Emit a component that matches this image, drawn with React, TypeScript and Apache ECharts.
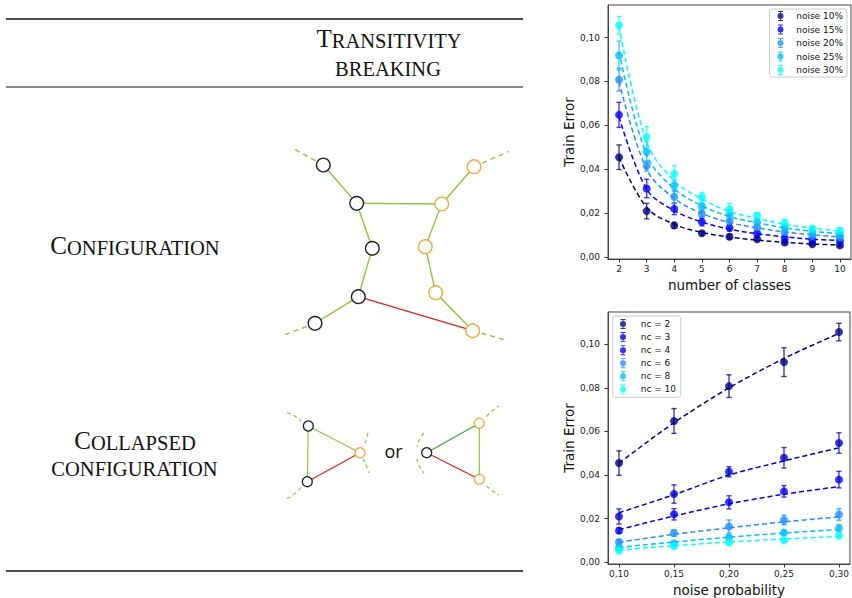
import React, { useEffect, useRef } from 'react';
import * as echarts from 'echarts';

// ---------- data ----------
const classes = [2, 3, 4, 5, 6, 7, 8, 9, 10];
const noiseProbs = [0.1, 0.15, 0.2, 0.25, 0.3];
const noiseNames = ['noise 10%', 'noise 15%', 'noise 20%', 'noise 25%', 'noise 30%'];
const ncValues = [2, 3, 4, 6, 8, 10];
const ncNames = ['nc = 2', 'nc = 3', 'nc = 4', 'nc = 6', 'nc = 8', 'nc = 10'];
const yTicks = [0, 0.02, 0.04, 0.06, 0.08, 0.1];

// mean train error, one array per noise level, over classes 2..10
const mean10 = [0.0455, 0.021, 0.0145, 0.0109, 0.0093, 0.0082, 0.0067, 0.0059, 0.0054];
const mean15 = [0.0648, 0.0313, 0.022, 0.0161, 0.0134, 0.0108, 0.0087, 0.0078, 0.0073];
const mean20 = [0.0808, 0.0415, 0.0275, 0.0197, 0.0164, 0.0135, 0.0114, 0.0096, 0.009];
const mean25 = [0.0918, 0.0479, 0.0325, 0.0231, 0.0194, 0.016, 0.0136, 0.0113, 0.0101];
const mean30 = [0.1056, 0.0547, 0.0379, 0.0273, 0.0219, 0.019, 0.0156, 0.013, 0.0122];

// error bar half-lengths
const err10 = [0.0056, 0.0035, 0.0013, 0.0009, 0.0011, 0.0008, 0.0007, 0.0006, 0.0006];
const err15 = [0.0057, 0.0042, 0.0026, 0.0018, 0.0015, 0.0011, 0.0009, 0.0008, 0.0008];
const err20 = [0.0052, 0.0023, 0.003, 0.0014, 0.003, 0.0012, 0.001, 0.0009, 0.0008];
const err25 = [0.0066, 0.0047, 0.0026, 0.0015, 0.0022, 0.0012, 0.0011, 0.0009, 0.0008];
const err30 = [0.004, 0.0047, 0.0038, 0.0022, 0.0026, 0.0013, 0.0016, 0.001, 0.0009];

// dashed fitted curves
const fit10 = [0.0455, 0.0227, 0.015, 0.0113, 0.0092, 0.0078, 0.0068, 0.006, 0.0056];
const fit15 = [0.064, 0.031, 0.0212, 0.016, 0.0128, 0.0107, 0.0093, 0.0082, 0.0076];
const fit20 = [0.08, 0.04, 0.0268, 0.02, 0.0158, 0.0134, 0.0115, 0.0102, 0.0093];
const fit25 = [0.0935, 0.0465, 0.0312, 0.0234, 0.0185, 0.0157, 0.0134, 0.0118, 0.0107];
const fit30 = [0.105, 0.0525, 0.0347, 0.0265, 0.0208, 0.0177, 0.015, 0.0133, 0.0119];

const means = [mean10, mean15, mean20, mean25, mean30];
const errs = [err10, err15, err20, err25, err30];
const fits = [fit10, fit15, fit20, fit25, fit30];

const noiseColors = ['#000080', '#0000ff', '#1e90ff', '#00bfff', '#00ffff'];
const ncColors = ['#000080', '#0000cd', '#0000ff', '#1e90ff', '#00bfff', '#00ffff'];

// ---------- illustration layout (not data) ----------
const GREEN = '#8dc63f';
const DGREEN = '#3aaa35';
const RED = '#e2231a';
const ORANGE = '#f7a640';
const BLACK = '#231f20';
const SERIF = 'Liberation Serif';
const SANS = 'DejaVu Sans';

const cfgNodes: Record<string, [number, number, string]> = {
  A: [323.3, 165, BLACK], B: [356.7, 203.3, BLACK], C: [372.3, 248.3, BLACK],
  D: [358.3, 296.7, BLACK], E: [315, 323.3, BLACK],
  F: [474, 166.7, ORANGE], G: [441.7, 204, ORANGE], H: [425.3, 246.7, ORANGE],
  I: [435.7, 292.7, ORANGE], J: [472.7, 330.7, ORANGE],
};
const cfgEdges: [string, string, string][] = [
  ['A', 'B', GREEN], ['B', 'C', GREEN], ['C', 'D', GREEN], ['D', 'E', GREEN],
  ['B', 'G', GREEN], ['F', 'G', GREEN], ['G', 'H', GREEN], ['H', 'I', GREEN],
  ['I', 'J', GREEN], ['D', 'J', RED],
];
const cfgDashes: [string, number, number][] = [
  ['A', 295, 149.5], ['F', 508.5, 151.5], ['E', 281.5, 336], ['J', 503.5, 339.5],
];
const colNodes: Record<string, [number, number, string]> = {
  T1: [308.3, 426, BLACK], B1: [307.3, 481.7, BLACK], O1: [360, 452.7, ORANGE],
  K: [426.7, 452.7, BLACK], P: [479.3, 423.3, ORANGE], Q: [479.3, 479.3, ORANGE],
};
const colEdges: [string, string, string][] = [
  ['T1', 'B1', GREEN], ['T1', 'O1', GREEN], ['B1', 'O1', RED],
  ['K', 'P', DGREEN], ['K', 'Q', RED], ['P', 'Q', GREEN],
];
// quadratic dashed arcs: x1,y1,cpx,cpy,x2,y2
const colArcs: number[][] = [
  [287, 412.5, 295, 415, 301, 421],
  [287, 498.5, 295, 495, 301, 487.5],
  [368, 433, 366.5, 440, 363, 447],
  [363, 458.5, 366.5, 465, 369, 473],
  [424, 433, 418, 440, 417, 447],
  [417, 458.5, 418, 466, 424, 473],
  [486.5, 416.5, 492, 410, 499, 406],
  [486.5, 486, 492, 491, 499, 495],
];

const legendIcon =
  'path://M4.5,0 h1 v10 h-1 z M2.5,0 h5 v0.9 h-5 z M2.5,9.1 h5 v0.9 h-5 z M2,5 a3,3 0 1,1 6,0 a3,3 0 1,1 -6,0 z';

function buildGraphic() {
  const g: any[] = [];
  const rule = (y: number, w: number) => ({
    type: 'line', shape: { x1: 6, y1: y, x2: 523, y2: y }, style: { stroke: '#111', lineWidth: w },
  });
  g.push(rule(19, 1.6), rule(87, 1.1), rule(571, 1.6));

  const richStyle = {
    a: { fontSize: 25, fontFamily: SERIF, fill: '#111', lineHeight: 25, verticalAlign: 'bottom' },
    b: { fontSize: 20.5, fontFamily: SERIF, fill: '#111', lineHeight: 22, verticalAlign: 'bottom' },
  };
  const title = (text: string, x: number, y: number) => ({
    type: 'text',
    x, y,
    style: { text, rich: richStyle, align: 'center', verticalAlign: 'middle', fill: '#111', font: `20px ${SERIF}` },
  });
  g.push(title('{a|T}{b|RANSITIVITY}', 389, 38.5));
  g.push(title('{b|BREAKING}', 388, 68));
  g.push(title('{a|C}{b|ONFIGURATION}', 135, 245.8));
  g.push(title('{a|C}{b|OLLAPSED}', 135, 440.8));
  g.push(title('{b|CONFIGURATION}', 134.5, 468));

  g.push({
    type: 'text', x: 393.5, y: 451,
    style: { text: 'or', fontSize: 18, fontFamily: 'Open Sans', fill: '#111', align: 'center', verticalAlign: 'middle' },
  });

  // configuration graph
  cfgDashes.forEach(([n, x, y]) => {
    const p = cfgNodes[n];
    g.push({ type: 'line', shape: { x1: p[0], y1: p[1], x2: x, y2: y }, style: { stroke: GREEN, lineWidth: 1.4, lineDash: [5, 4] } });
  });
  cfgEdges.forEach(([a, b, c]) => {
    const p = cfgNodes[a], q = cfgNodes[b];
    g.push({ type: 'line', shape: { x1: p[0], y1: p[1], x2: q[0], y2: q[1] }, style: { stroke: c, lineWidth: 1.4 } });
  });
  Object.values(cfgNodes).forEach(([x, y, c]) => {
    g.push({ type: 'circle', shape: { cx: x, cy: y, r: 6.8 }, style: { fill: '#fff', stroke: c, lineWidth: 1.4 } });
  });

  // collapsed configurations
  colArcs.forEach(([x1, y1, cx, cy, x2, y2]) => {
    g.push({ type: 'bezierCurve', shape: { x1, y1, cpx1: cx, cpy1: cy, x2, y2 }, style: { stroke: GREEN, lineWidth: 1.2, lineDash: [4, 3], fill: 'none' } });
  });
  colEdges.forEach(([a, b, c]) => {
    const p = colNodes[a], q = colNodes[b];
    g.push({ type: 'line', shape: { x1: p[0], y1: p[1], x2: q[0], y2: q[1] }, style: { stroke: c, lineWidth: 1.2 } });
  });
  Object.values(colNodes).forEach(([x, y, c]) => {
    g.push({ type: 'circle', shape: { cx: x, cy: y, r: 5 }, style: { fill: '#fff', stroke: c, lineWidth: 1.3 } });
  });
  return g;
}

function errorSeries(name: string, data: number[][], color: string, idx: number) {
  return {
    type: 'custom',
    name,
    xAxisIndex: idx,
    yAxisIndex: idx,
    silent: true,
    z: 2,
    encode: { x: 0, y: 1 },
    data,
    renderItem: (params: any, api: any) => {
      const x = api.value(0), y = api.value(1), e = api.value(2);
      const t = api.coord([x, y + e]);
      const b = api.coord([x, y - e]);
      const cw = 2.6;
      const st = { stroke: color, lineWidth: 1.4, opacity: 0.75 };
      return {
        type: 'group',
        children: [
          { type: 'line', shape: { x1: t[0], y1: t[1], x2: b[0], y2: b[1] }, style: st },
          { type: 'line', shape: { x1: t[0] - cw, y1: t[1], x2: t[0] + cw, y2: t[1] }, style: st },
          { type: 'line', shape: { x1: b[0] - cw, y1: b[1], x2: b[0] + cw, y2: b[1] }, style: st },
        ],
      };
    },
  };
}

function buildOption() {
  const series: any[] = [];
  // top chart: one curve per noise level
  means.forEach((m, i) => {
    const color = noiseColors[i];
    series.push({
      type: 'line', name: '_fitA' + i, xAxisIndex: 0, yAxisIndex: 0, silent: true, z: 3,
      data: classes.map((c, j) => [c, fits[i][j]]), smooth: 0.35, symbol: 'none',
      lineStyle: { color, width: 1.5, type: [5, 3] },
    });
    series.push(errorSeries('_errA' + i, classes.map((c, j) => [c, m[j], errs[i][j]]), color, 0));
    series.push({
      type: 'scatter', name: noiseNames[i], xAxisIndex: 0, yAxisIndex: 0, z: 4,
      data: classes.map((c, j) => [c, m[j]]), symbol: 'circle', symbolSize: 8,
      itemStyle: { color },
    });
  });
  // bottom chart: one line per number of classes
  ncValues.forEach((nc, k) => {
    const j = classes.indexOf(nc);
    const color = ncColors[k];
    series.push({
      type: 'line', name: '_fitB' + k, xAxisIndex: 1, yAxisIndex: 1, silent: true, z: 3,
      data: noiseProbs.map((p, i) => [p, fits[i][j]]), smooth: 0.3, symbol: 'none',
      lineStyle: { color, width: 1.5, type: [5, 3] },
    });
    series.push(errorSeries('_errB' + k, noiseProbs.map((p, i) => [p, means[i][j], errs[i][j]]), color, 1));
    series.push({
      type: 'scatter', name: ncNames[k], xAxisIndex: 1, yAxisIndex: 1, z: 4,
      data: noiseProbs.map((p, i) => [p, means[i][j]]), symbol: 'circle', symbolSize: 8,
      itemStyle: { color },
    });
  });

  const tickLabel = { fontFamily: SANS, fontSize: 9, color: '#222' };
  const axisCommon = {
    type: 'value',
    splitLine: { show: false },
    axisLine: { show: true, onZero: false, lineStyle: { color: '#444', width: 1 } },
    axisTick: { show: true, length: 3.5, lineStyle: { color: '#333', width: 1 } },
    nameTextStyle: { fontFamily: SANS, fontSize: 13.5, color: '#111' },
    nameLocation: 'middle',
  };
  const yAxisDef = (gi: number) => ({
    ...axisCommon,
    gridIndex: gi,
    min: -0.0008,
    max: 0.1148,
    name: 'Train Error',
    nameGap: 29,
    axisTick: { ...axisCommon.axisTick, customValues: yTicks },
    axisLabel: { ...tickLabel, margin: 8, customValues: yTicks, formatter: (v: number) => v.toFixed(2).replace('.', ',') },
  });

  const legendCommon = {
    orient: 'vertical',
    itemWidth: 10,
    itemHeight: 10,
    selectedMode: false,
    borderColor: '#cccccc',
    borderWidth: 1,
    borderRadius: 3,
    backgroundColor: 'rgba(255,255,255,0.85)',
  };

  return {
    animation: false,
    backgroundColor: '#fff',
    grid: [
      { left: 608, top: 5, width: 243, height: 254, show: true, borderColor: '#444', borderWidth: 1, backgroundColor: 'transparent' },
      { left: 608, top: 312, width: 243, height: 255, show: true, borderColor: '#444', borderWidth: 1, backgroundColor: 'transparent' },
    ],
    xAxis: [
      {
        ...axisCommon, gridIndex: 0, min: 1.6, max: 10.4, name: 'number of classes', nameGap: 19,
        axisTick: { ...axisCommon.axisTick, customValues: classes },
        axisLabel: { ...tickLabel, margin: 5, customValues: classes, formatter: (v: number) => String(v) },
      },
      {
        ...axisCommon, gridIndex: 1, min: 0.09, max: 0.31, name: 'noise probability', nameGap: 19,
        axisTick: { ...axisCommon.axisTick, customValues: noiseProbs },
        axisLabel: { ...tickLabel, margin: 5, customValues: noiseProbs, formatter: (v: number) => v.toFixed(2).replace('.', ',') },
      },
    ],
    yAxis: [yAxisDef(0), yAxisDef(1)],
    legend: [
      {
        ...legendCommon,
        data: noiseNames.map((n) => ({ name: n, icon: legendIcon })),
        right: 5, top: 9, itemGap: 3.5, padding: [2, 4, 2, 8],
        textStyle: { fontFamily: SANS, fontSize: 9, color: '#111', lineHeight: 10, padding: [0, 0, 0, 5.7] },
      },
      {
        ...legendCommon,
        data: ncNames.map((n) => ({ name: n, icon: legendIcon })),
        left: 612.7, top: 316, itemGap: 3.07, padding: [3, 4.7, 3, 7.3],
        textStyle: { fontFamily: SANS, fontSize: 9, color: '#111', lineHeight: 10, padding: [0, 0, 0, 7.7] },
      },
    ],
    graphic: buildGraphic(),
    series,
  };
}

export default function App() {
  const ref = useRef<HTMLDivElement>(null);
  useEffect(() => {
    if (!ref.current) return;
    const chart = echarts.init(ref.current, undefined, { renderer: 'svg' });
    chart.setOption(buildOption() as any);
    return () => chart.dispose();
  }, []);
  return (
    <div
      ref={ref}
      style={{ position: 'fixed', left: 0, top: 0, width: 852, height: 598, background: '#fff' }}
    />
  );
}
